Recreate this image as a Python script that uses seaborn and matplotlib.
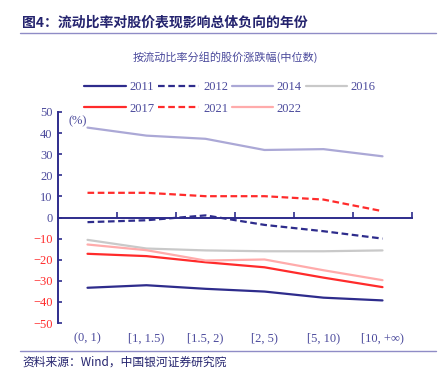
import pandas as pd
import seaborn as sns
import matplotlib.pyplot as plt
from matplotlib.lines import Line2D

groups = ['(0, 1)', '[1, 1.5)', '[1.5, 2)', '[2, 5)', '[5, 10)', '[10, +∞)']
y2011 = [-33.3, -32.1, -33.8, -35.1, -38.0, -39.3]
y2012 = [-2.2, -1.3, 1.0, -3.5, -6.5, -10.0]
y2014 = [42.6, 38.8, 37.3, 32.0, 32.4, 29.0]
y2016 = [-10.6, -14.7, -15.6, -16.0, -16.0, -15.6]
y2017 = [-17.2, -18.3, -21.2, -23.6, -28.5, -33.0]
y2021 = [11.7, 11.7, 10.1, 10.1, 8.5, 3.0]
y2022 = [-12.8, -15.5, -20.4, -19.9, -25.0, -29.7]

navy = '#2E2C8C'
series = [
    ('2011', y2011, navy, '-'),
    ('2012', y2012, navy, '--'),
    ('2014', y2014, '#ABA8D6', '-'),
    ('2016', y2016, '#C9C9C9', '-'),
    ('2017', y2017, '#FF2B2B', '-'),
    ('2021', y2021, '#FF2B2B', '--'),
    ('2022', y2022, '#FFABAB', '-'),
]

sns.set_style('white')
plt.rcParams['font.family'] = ['Liberation Serif', 'Noto Sans CJK SC']

fig = plt.figure(figsize=(4.38, 3.71), dpi=100)
ax = fig.add_axes([58 / 438, 1 - 323 / 371, 354 / 438, 211 / 371])

handles = {}
for name, vals, col, ls in series:
    df = pd.DataFrame({'x': range(len(groups)), 'y': vals})
    sns.lineplot(data=df, x='x', y='y', ax=ax, color=col, linewidth=1.6)
    line = ax.lines[-1]
    if ls == '--':
        line.set_dashes((3, 1.6))
    handles[name] = Line2D([], [], color=col, linewidth=1.6,
                           dashes=(3, 1.6) if ls == '--' else (None, None))

ax.set_xlim(-0.5, 5.5)
ax.set_ylim(-50, 50)
ax.set_xlabel('')
ax.set_ylabel('')

for s in ['top', 'right']:
    ax.spines[s].set_visible(False)
ax.spines['left'].set_color(navy)
ax.spines['left'].set_linewidth(1.4)
ax.spines['bottom'].set_position(('data', 0))
ax.spines['bottom'].set_color(navy)
ax.spines['bottom'].set_linewidth(1.4)

ax.set_yticks(range(-50, 51, 10))
ax.set_yticklabels([f'{v}' if v >= 0 else f'\u2212{-v}' for v in range(-50, 51, 10)])
for lab, v in zip(ax.get_yticklabels(), range(-50, 51, 10)):
    lab.set_color('#FF2B2B' if v < 0 else '#4B4A9C')
ax.tick_params(axis='y', direction='in', length=3, width=1.2, color=navy,
               labelsize=9, pad=4, left=True)

ax.set_xticks(range(len(groups)))
ax.set_xticklabels(groups)
ax.set_xticks([i + 0.5 for i in range(len(groups))], minor=True)
ax.tick_params(axis='x', which='major', length=0, labelsize=9,
               labelcolor='#4B4A9C', pad=83, bottom=True)
ax.tick_params(axis='x', which='minor', direction='in', length=4, width=1.2,
               color=navy, bottom=True)

ax.text(0.03, 0.985, '(%)', transform=ax.transAxes, fontsize=9,
        color='#4B4A9C', va='top', ha='left')

order = ['2011', '2017', '2012', '2021', '2014', '2022', '2016']
fig.legend([handles[k] for k in order], order, ncol=4, frameon=False,
           loc='upper left', bbox_to_anchor=(73 / 438, 1 - 70 / 371),
           fontsize=9, handlelength=3.3, handletextpad=0.3,
           columnspacing=0.3, labelspacing=0.75, labelcolor='#4B4A9C')

fig.text(22 / 438, 1 - 23 / 371, '图4：流动比率对股价表现影响总体负向的年份',
         fontsize=10, fontweight='bold', color='#24236E', va='center',
         family=['Noto Sans CJK SC', 'DejaVu Sans'])
fig.add_artist(Line2D([20 / 438, 436 / 438], [1 - 33 / 371, 1 - 33 / 371],
                      color='#8F8CC6', linewidth=1, transform=fig.transFigure))
fig.text(225 / 438, 1 - 57 / 371, '按流动比率分组的股价涨跌幅(中位数)',
         fontsize=8, color='#4B4A9C', va='center', ha='center',
         family=['Noto Sans CJK SC', 'DejaVu Sans'])
fig.add_artist(Line2D([20 / 438, 436 / 438], [1 - 351 / 371, 1 - 351 / 371],
                      color='#8F8CC6', linewidth=1, transform=fig.transFigure))
fig.text(22 / 438, 1 - 362 / 371, '资料来源：Wind，中国银河证券研究院',
         fontsize=8.5, color='#24236E', va='center', style='italic',
         family=['Noto Sans CJK SC', 'DejaVu Sans'])

fig.savefig('out.png', dpi=100)
